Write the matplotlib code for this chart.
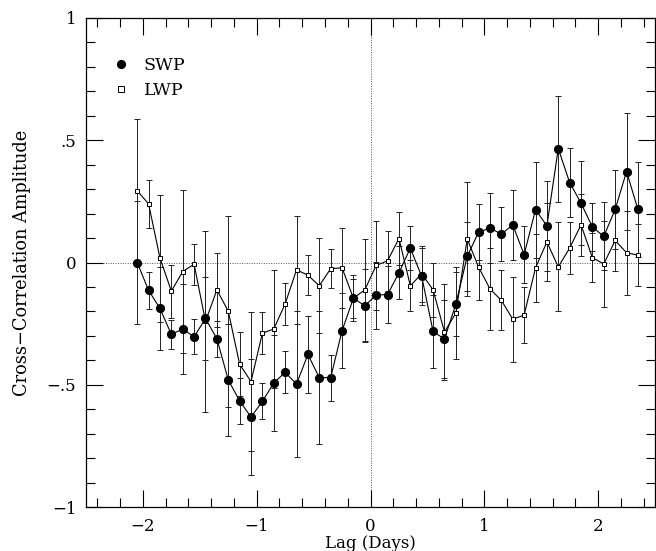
import matplotlib
matplotlib.use("Agg")
import matplotlib.pyplot as plt
from matplotlib.ticker import MultipleLocator
from matplotlib.lines import Line2D

lag = [-2.05, -1.95, -1.85, -1.75, -1.65, -1.55, -1.45, -1.35, -1.25, -1.15,
       -1.05, -0.95, -0.85, -0.75, -0.65, -0.55, -0.45, -0.35, -0.25, -0.15,
       -0.05, 0.05, 0.15, 0.25, 0.35, 0.45, 0.55, 0.65, 0.75, 0.85,
       0.95, 1.05, 1.15, 1.25, 1.35, 1.45, 1.55, 1.65, 1.75, 1.85,
       1.95, 2.05, 2.15, 2.25, 2.35]

swp = [0.000, -0.114, -0.188, -0.294, -0.272, -0.304, -0.229, -0.312, -0.480, -0.566,
       -0.632, -0.568, -0.493, -0.449, -0.497, -0.376, -0.471, -0.471, -0.279, -0.146,
       -0.177, -0.133, -0.131, -0.042, 0.059, -0.057, -0.282, -0.313, -0.170, 0.025,
       0.124, 0.141, 0.116, 0.154, 0.032, 0.216, 0.150, 0.466, 0.327, 0.243,
       0.145, 0.107, 0.217, 0.372, 0.217]
swp_err = [0.250, 0.075, 0.170, 0.060, 0.186, 0.072, 0.170, 0.074, 0.230, 0.095,
           0.236, 0.074, 0.195, 0.085, 0.300, 0.157, 0.273, 0.094, 0.154, 0.080,
           0.150, 0.137, 0.117, 0.108, 0.089, 0.115, 0.150, 0.160, 0.130, 0.140,
           0.115, 0.145, 0.110, 0.143, 0.117, 0.197, 0.185, 0.217, 0.140, 0.172,
           0.100, 0.139, 0.161, 0.240, 0.195]

lwp = [0.293, 0.240, 0.018, -0.117, -0.037, -0.007, -0.241, -0.112, -0.199, -0.416,
       -0.487, -0.289, -0.272, -0.169, -0.030, -0.052, -0.095, -0.025, -0.022, -0.146,
       -0.112, -0.012, 0.007, 0.098, -0.095, -0.046, -0.112, -0.284, -0.207, 0.096,
       -0.019, -0.108, -0.155, -0.232, -0.215, -0.022, 0.084, -0.018, 0.059, 0.154,
       0.020, -0.006, 0.090, 0.040, 0.030]
lwp_err = [0.295, 0.097, 0.260, 0.108, 0.334, 0.083, 0.370, 0.150, 0.390, 0.130,
           0.285, 0.086, 0.243, 0.085, 0.220, 0.082, 0.195, 0.079, 0.165, 0.095,
           0.210, 0.183, 0.123, 0.110, 0.105, 0.115, 0.109, 0.195, 0.187, 0.233,
           0.133, 0.167, 0.123, 0.174, 0.115, 0.138, 0.158, 0.182, 0.106, 0.128,
           0.100, 0.174, 0.123, 0.172, 0.128]

xticks = [-2, -1, 0, 1, 2]
xtick_labels = ['\u22122', '\u22121', '0', '1', '2']
yticks = [-1, -0.5, 0, 0.5, 1]
ytick_labels = ['\u22121', '\u2212.5', '0', '.5', '1']

plt.rcParams['font.family'] = ['DejaVu Serif']

fig = plt.figure(figsize=(6.56, 5.51), dpi=100)
ax = fig.add_axes([86/656, 1 - 507/551, 569/656, 489/551])

ax.axhline(0, color='#555555', lw=0.7, ls=(0, (1, 1.5)), zorder=1)
ax.axvline(0, color='#555555', lw=0.7, ls=(0, (1, 1.5)), zorder=1)

ax.errorbar(lag, lwp, yerr=lwp_err, fmt='none', ecolor='#222222',
            elinewidth=0.7, capsize=2.3, capthick=0.7, zorder=2)
ax.errorbar(lag, swp, yerr=swp_err, fmt='none', ecolor='#222222',
            elinewidth=0.7, capsize=2.3, capthick=0.7, zorder=2)
ax.plot(lag, lwp, color='black', lw=0.8, marker='s', markersize=3.3,
        markerfacecolor='white', markeredgecolor='black', markeredgewidth=0.7, zorder=3)
ax.plot(lag, swp, color='black', lw=0.8, marker='o', markersize=5.6,
        markerfacecolor='black', markeredgecolor='black', zorder=4)

ax.set_xlim(-2.5, 2.5)
ax.set_ylim(-1, 1)
ax.set_xticks(xticks)
ax.set_xticklabels(xtick_labels)
ax.set_yticks(yticks)
ax.set_yticklabels(ytick_labels)
ax.xaxis.set_minor_locator(MultipleLocator(0.2))
ax.yaxis.set_minor_locator(MultipleLocator(0.1))
ax.tick_params(which='both', direction='in', top=True, right=True, width=0.8,
               labelsize=12, colors='black')
ax.tick_params(which='major', length=12)
ax.tick_params(which='minor', length=6.5)
ax.tick_params(axis='x', which='major', pad=8)
ax.tick_params(axis='y', which='major', pad=7)
for s in ax.spines.values():
    s.set_linewidth(0.9)

ax.set_xlabel('Lag (Days)', fontsize=12, labelpad=0)
ax.set_ylabel('Cross\u2212Correlation Amplitude', fontsize=12.8, labelpad=11)

handles = [Line2D([], [], ls='none', marker='o', markersize=5.6, color='black'),
           Line2D([], [], ls='none', marker='s', markersize=4.2,
                  markerfacecolor='white', markeredgecolor='black', markeredgewidth=0.7)]
ax.legend(handles, ['SWP', 'LWP'], loc='upper left', frameon=False,
          bbox_to_anchor=((112.6 - 86) / 569, (507 - 57) / 489),
          borderpad=0, borderaxespad=0, handlelength=1.0, handletextpad=0.8,
          labelspacing=0.45, fontsize=12.5)

fig.savefig('out.png', dpi=100)
